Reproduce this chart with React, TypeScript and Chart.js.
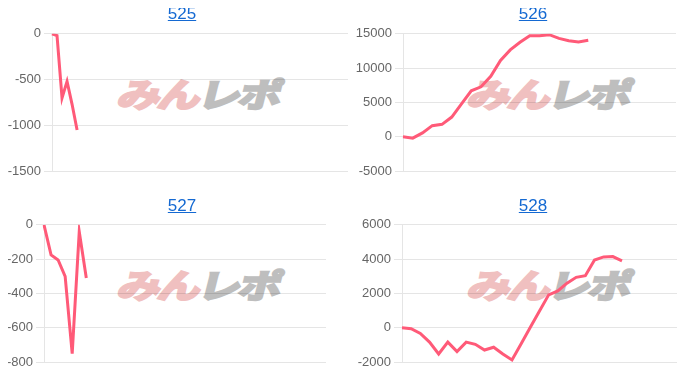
import React, { useEffect, useRef } from "react";
import { Chart, registerables } from "chart.js";

Chart.register(...registerables);

// ---- data ----
const labels525 = Array.from({ length: 60 }, (_, i) => String(i + 1));
const labels526 = Array.from({ length: 29 }, (_, i) => String(i + 1));
const labels527 = Array.from({ length: 41 }, (_, i) => String(i + 1));
const labels528 = Array.from({ length: 31 }, (_, i) => String(i + 1));

const values525 = [0, -20, -700, -520, -770, -1050];
const values526 = [0, -190, 580, 1630, 1820, 2880, 4800, 6710, 7290, 8820, 11130, 12660, 13760, 14720, 14720, 14870, 14340, 14000, 13810, 14050];
const values527 = [0, -175, -205, -300, -750, -40, -310];
const values528 = [0, -50, -330, -830, -1520, -830, -1380, -830, -960, -1290, -1130, -1520, -1870, -920, 30, 980, 1920, 2150, 2600, 2940, 3040, 3950, 4130, 4150, 3900];

const ticks525 = { min: -1500, max: 0, step: 500 };
const ticks526 = { min: -5000, max: 15000, step: 5000 };
const ticks527 = { min: -800, max: 0, step: 200 };
const ticks528 = { min: -2000, max: 6000, step: 2000 };

type PanelProps = {
  title: string;
  labels: string[];
  values: number[];
  range: { min: number; max: number; step: number };
  left: number;
  top: number;
  yWidth: number;
  padRight: number;
  titleX: number;
  titleTop: number;
  wmX: number;
  wmY: number;
};

function Panel(p: PanelProps) {
  const ref = useRef<HTMLCanvasElement | null>(null);
  useEffect(() => {
    if (!ref.current) return;
    const chart = new Chart(ref.current, {
      type: "line",
      data: {
        labels: p.labels,
        datasets: [
          {
            data: p.values,
            borderColor: "rgb(255,90,120)",
            backgroundColor: "rgb(255,90,120)",
            borderWidth: 3,
            pointRadius: 0,
            tension: 0,
            fill: false,
          },
        ],
      },
      options: {
        animation: false,
        responsive: false,
        maintainAspectRatio: false,
        layout: { padding: { top: 10, bottom: 10, left: 0, right: p.padRight } },
        plugins: { legend: { display: false }, tooltip: { enabled: false } },
        scales: {
          x: { display: false },
          y: {
            min: p.range.min,
            max: p.range.max,
            ticks: {
              stepSize: p.range.step,
              color: "#666",
              font: { size: 13, family: "'Helvetica Neue', Helvetica, Arial, sans-serif" },
              callback: (v: any) => String(v),
            },
            grid: { color: "rgba(0,0,0,0.1)" },
            afterFit: (s: any) => {
              s.width = p.yWidth;
            },
          },
        },
      },
    } as any);
    return () => chart.destroy();
  }, []);
  return (
    <>
      <div
        style={{
          position: "absolute",
          left: p.wmX - 90,
          top: p.wmY - 22,
          width: 180,
          height: 44,
          textAlign: "center",
          fontFamily: "'Noto Sans CJK JP', sans-serif",
          fontWeight: 700,
          fontSize: 33,
          lineHeight: "44px",
          whiteSpace: "nowrap",
          letterSpacing: -2,
          transform: "skewX(-14deg) scaleX(1.3)",
          zIndex: 0,
        }}
      >
        <span style={{ color: "rgb(240,192,192)", WebkitTextStroke: "2.5px rgb(240,192,192)" } as any}>みん</span>
        <span style={{ color: "rgb(190,190,190)", WebkitTextStroke: "2.5px rgb(190,190,190)" } as any}>レポ</span>
      </div>
      <canvas
        ref={ref}
        width={350}
        height={159}
        style={{ position: "absolute", left: p.left, top: p.top, width: 350, height: 159, zIndex: 1 }}
      />
      <div
        style={{
          position: "absolute",
          left: p.titleX - 50,
          top: p.titleTop,
          width: 100,
          textAlign: "center",
          fontFamily: "Arial, Helvetica, sans-serif",
          fontSize: 17,
          lineHeight: "20px",
          zIndex: 2,
        }}
      >
        <a href="#" style={{ color: "rgb(20,105,210)", textDecoration: "underline" }}>
          {p.title}
        </a>
      </div>
    </>
  );
}

export default function App() {
  return (
    <div style={{ position: "relative", width: 700, height: 380, margin: -8, background: "#fff" }}>
      <Panel title="525" labels={labels525} values={values525} range={ticks525} left={0} top={23} yWidth={52} padRight={2} titleX={182} titleTop={4} wmX={200} wmY={93} />
      <Panel title="526" labels={labels526} values={values526} range={ticks526} left={350} top={23} yWidth={53} padRight={24} titleX={533} titleTop={4} wmX={550} wmY={93} />
      <Panel title="527" labels={labels527} values={values527} range={ticks527} left={0} top={214} yWidth={44} padRight={24} titleX={182} titleTop={196} wmX={200} wmY={284} />
      <Panel title="528" labels={labels528} values={values528} range={ticks528} left={350} top={214} yWidth={52} padRight={23} titleX={533} titleTop={196} wmX={550} wmY={284} />
    </div>
  );
}
